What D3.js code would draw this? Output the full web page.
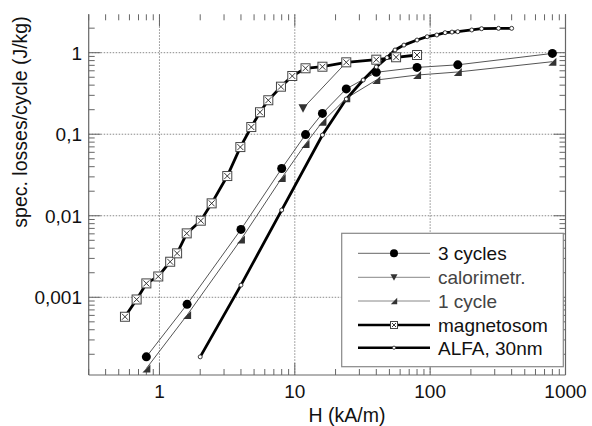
<!DOCTYPE html>
<html>
<head>
<meta charset="utf-8">
<script src="https://cdn.jsdelivr.net/npm/d3@7"></script>
<style>
  html, body { margin: 0; padding: 0; background: #fff; }
  svg { display: block; font-family: "Liberation Sans", Arial, Helvetica, sans-serif; }
</style>
</head>
<body>
<svg id="chart" width="592" height="426"></svg>
<script>
// ---- data (H in kA/m, losses in J/kg) ----
const hCycles = [0.8, 1.6, 4, 8, 12, 16, 24, 40, 80, 160, 800];
const loss3Cycles = [1.86e-4, 8.2e-4, 6.8e-3, 0.038, 0.099, 0.18, 0.36, 0.575, 0.66, 0.71, 0.98];
const loss1Cycle = [1.34e-4, 6.05e-4, 5.1e-3, 0.029, 0.076, 0.142, 0.276, 0.462, 0.532, 0.58, 0.776];
const hCalor = [11.5, 24];
const lossCalor = [0.208, 0.76];
const hMagneto = [0.556, 0.678, 0.8, 0.98, 1.2, 1.35, 1.59, 2.02, 2.43, 3.17, 3.96, 4.77, 5.53, 6.37, 7.9, 9.58, 12, 16, 24, 40, 56, 80];
const lossMagneto = [5.77e-4, 9.4e-4, 1.48e-3, 1.8e-3, 2.73e-3, 3.46e-3, 6.08e-3, 8.7e-3, 0.0142, 0.0307, 0.0696, 0.1225, 0.186, 0.261, 0.383, 0.518, 0.644, 0.673, 0.762, 0.821, 0.879, 0.937];
const hAlfa = [2, 4, 8, 16, 24, 32, 40, 48, 55, 64, 80, 95, 112, 129, 145, 160, 203, 240, 320, 400];
const lossAlfa = [1.86e-4, 1.41e-3, 0.01175, 0.0977, 0.27, 0.462, 0.67, 0.87, 1.08, 1.24, 1.43, 1.57, 1.65, 1.76, 1.79, 1.81, 1.9, 1.97, 1.99, 1.99];

const xMajorTicks = [1, 10, 100, 1000];
const xTickLabels = ["1", "10", "100", "1000"];
const yMajorTicks = [1, 0.1, 0.01, 0.001];
const yTickLabels = ["1", "0,1", "0,01", "0,001"];
const legendLabels = ["3 cycles", "calorimetr.", "1 cycle", "magnetosom", "ALFA, 30nm"];
const xTitle = "H (kA/m)";
const yTitle = "spec. losses/cycle (J/kg)";

// ---- layout ----
const L = 88.7, R = 565.5, T = 14.3, B = 375;
const svg = d3.select("#chart");
const x = d3.scaleLog().domain([0.3, 1000]).range([L, R]);
const y = d3.scaleLog().domain([1.114e-4, 2.958]).range([B, T]);

const axisColor = "#666";
const gridColor = "#8a8a8a";

// minor + major tick values
function logTicks(scale) {
  const [d0, d1] = scale.domain();
  const out = [];
  for (let e = -5; e <= 4; e++) {
    for (let m = 1; m <= 9; m++) {
      const v = m * Math.pow(10, e);
      if (v >= d0 * 0.9999 && v <= d1 * 1.0001) out.push({v, major: m === 1});
    }
  }
  return out;
}
const xt = logTicks(x), yt = logTicks(y);

// grid
const grid = svg.append("g");
grid.selectAll("line.gx").data(xMajorTicks.filter(v => v < 1000)).join("line")
  .attr("x1", d => x(d)).attr("x2", d => x(d)).attr("y1", T).attr("y2", B)
  .attr("stroke", gridColor).attr("stroke-width", 1).attr("stroke-dasharray", "1.5,1.5");
grid.selectAll("line.gy").data(yMajorTicks).join("line")
  .attr("y1", d => y(d)).attr("y2", d => y(d)).attr("x1", L).attr("x2", R)
  .attr("stroke", gridColor).attr("stroke-width", 1).attr("stroke-dasharray", "1.5,1.5");

// axes lines (left, right, bottom)
const ax = svg.append("g").attr("stroke", axisColor).attr("stroke-width", 1.2).attr("fill", "none");
ax.append("line").attr("x1", L).attr("x2", L).attr("y1", T).attr("y2", B);
ax.append("line").attr("x1", R).attr("x2", R).attr("y1", T).attr("y2", B);
ax.append("line").attr("x1", L).attr("x2", R).attr("y1", B).attr("y2", B);

const tk = svg.append("g").attr("stroke", axisColor).attr("stroke-width", 1);
const len = d => d.major ? 12 : 6;
// bottom & top ticks (inward)
tk.selectAll("line.xb").data(xt).join("line")
  .attr("x1", d => x(d.v)).attr("x2", d => x(d.v)).attr("y1", B).attr("y2", d => B - len(d));
tk.selectAll("line.xt").data(xt).join("line")
  .attr("x1", d => x(d.v)).attr("x2", d => x(d.v)).attr("y1", T).attr("y2", d => T + len(d));
// left & right ticks (inward)
tk.selectAll("line.yl").data(yt).join("line")
  .attr("y1", d => y(d.v)).attr("y2", d => y(d.v)).attr("x1", L).attr("x2", d => L + len(d));
tk.selectAll("line.yr").data(yt).join("line")
  .attr("y1", d => y(d.v)).attr("y2", d => y(d.v)).attr("x1", R).attr("x2", d => R - len(d));

// tick labels
svg.append("g").selectAll("text").data(xMajorTicks).join("text")
  .attr("x", d => x(d)).attr("y", 398).attr("text-anchor", "middle")
  .attr("font-size", 19).attr("fill", "#111").text((d, i) => xTickLabels[i]);
svg.append("g").selectAll("text").data(yMajorTicks).join("text")
  .attr("x", 82).attr("y", d => y(d)).attr("dy", "0.36em").attr("text-anchor", "end")
  .attr("font-size", 19).attr("fill", "#111").text((d, i) => yTickLabels[i]);

// titles
svg.append("text").attr("x", 347).attr("y", 422).attr("text-anchor", "middle")
  .attr("font-size", 19.5).attr("fill", "#111").text(xTitle);
svg.append("text").attr("transform", "translate(27,122) rotate(-90)").attr("text-anchor", "middle")
  .attr("font-size", 19.5).attr("fill", "#111").text(yTitle);

// ---- series ----
const line = d3.line().x(d => x(d[0])).y(d => y(d[1]));
const zip = (a, b) => a.map((v, i) => [v, b[i]]);
const s3 = zip(hCycles, loss3Cycles);
const s1 = zip(hCycles, loss1Cycle);
const sc = zip(hCalor, lossCalor);
const sm = zip(hMagneto, lossMagneto);
const sa = zip(hAlfa, lossAlfa);

const thinColor = "#555";
svg.append("path").datum(s1).attr("d", line).attr("fill", "none").attr("stroke", thinColor).attr("stroke-width", 1);
svg.append("path").datum(s3).attr("d", line).attr("fill", "none").attr("stroke", thinColor).attr("stroke-width", 1);
svg.append("path").datum(sc).attr("d", line).attr("fill", "none").attr("stroke", thinColor).attr("stroke-width", 1);
svg.append("path").datum(sa).attr("d", line).attr("fill", "none").attr("stroke", "#000").attr("stroke-width", 2.8);
svg.append("path").datum(sm).attr("d", line).attr("fill", "none").attr("stroke", "#000").attr("stroke-width", 2.8);

// marker drawers
function tri1(g, cx, cy, s) { // right triangle
  g.append("path").attr("d", `M${cx + s},${cy - s}L${cx + s},${cy + s}L${cx - s},${cy + s}Z`).attr("fill", "#333");
}
function triDown(g, cx, cy, s) {
  g.append("path").attr("d", `M${cx - s},${cy - s * 0.9}L${cx + s},${cy - s * 0.9}L${cx},${cy + s}Z`).attr("fill", "#333");
}
function sq(g, cx, cy, s) {
  g.append("rect").attr("x", cx - s).attr("y", cy - s).attr("width", 2 * s).attr("height", 2 * s)
    .attr("fill", "#fff").attr("stroke", "#444").attr("stroke-width", 1);
  const k = s - 1.5;
  g.append("path").attr("d", `M${cx - k},${cy - k}L${cx + k},${cy + k}M${cx + k},${cy - k}L${cx - k},${cy + k}`)
    .attr("stroke", "#222").attr("stroke-width", 0.9);
}
const mk = svg.append("g");
s1.forEach(d => tri1(mk, x(d[0]), y(d[1]), 4));
sc.slice(0, 1).forEach(d => triDown(mk, x(d[0]), y(d[1]), 4.5));
mk.selectAll("circle.c3").data(s3).join("circle")
  .attr("cx", d => x(d[0])).attr("cy", d => y(d[1])).attr("r", 4.5).attr("fill", "#000");
sm.forEach(d => sq(mk, x(d[0]), y(d[1]), 4.5));
mk.selectAll("circle.ca").data(sa).join("circle")
  .attr("cx", d => x(d[0])).attr("cy", d => y(d[1])).attr("r", 2)
  .attr("fill", "#fff").attr("stroke", "#222").attr("stroke-width", 0.9);

// ---- legend ----
const lg = svg.append("g");
lg.append("rect").attr("x", 341.7).attr("y", 233.3).attr("width", 221.6).attr("height", 133.4)
  .attr("fill", "#fff").attr("stroke", "#888").attr("stroke-width", 1.2);
const rowsY = [253.3, 277.3, 301, 325, 347.7];
const lx0 = 358, lx1 = 430, lmx = 394;
const legendStyle = [
  {c: "#666", w: 1, tc: "#111"},
  {c: "#888", w: 1, tc: "#444"},
  {c: "#888", w: 1, tc: "#444"},
  {c: "#000", w: 2.5, tc: "#111"},
  {c: "#000", w: 2.5, tc: "#111"}
];
legendLabels.forEach((lab, i) => {
  const yy = rowsY[i], st = legendStyle[i];
  lg.append("line").attr("x1", lx0).attr("x2", lx1).attr("y1", yy).attr("y2", yy)
    .attr("stroke", st.c).attr("stroke-width", st.w);
  if (i === 0) lg.append("circle").attr("cx", lmx).attr("cy", yy).attr("r", 4).attr("fill", "#000");
  if (i === 1) triDown(lg, lmx, yy, 3.5);
  if (i === 2) tri1(lg, lmx, yy, 3.2);
  if (i === 3) sq(lg, lmx, yy, 3.5);
  if (i === 4) lg.append("circle").attr("cx", lmx).attr("cy", yy).attr("r", 1.6)
    .attr("fill", "#fff").attr("stroke", "#222").attr("stroke-width", 0.8);
  lg.append("text").attr("x", 438).attr("y", yy).attr("dy", "0.36em")
    .attr("font-size", 19).attr("fill", st.tc).text(lab);
});
</script>
</body>
</html>
